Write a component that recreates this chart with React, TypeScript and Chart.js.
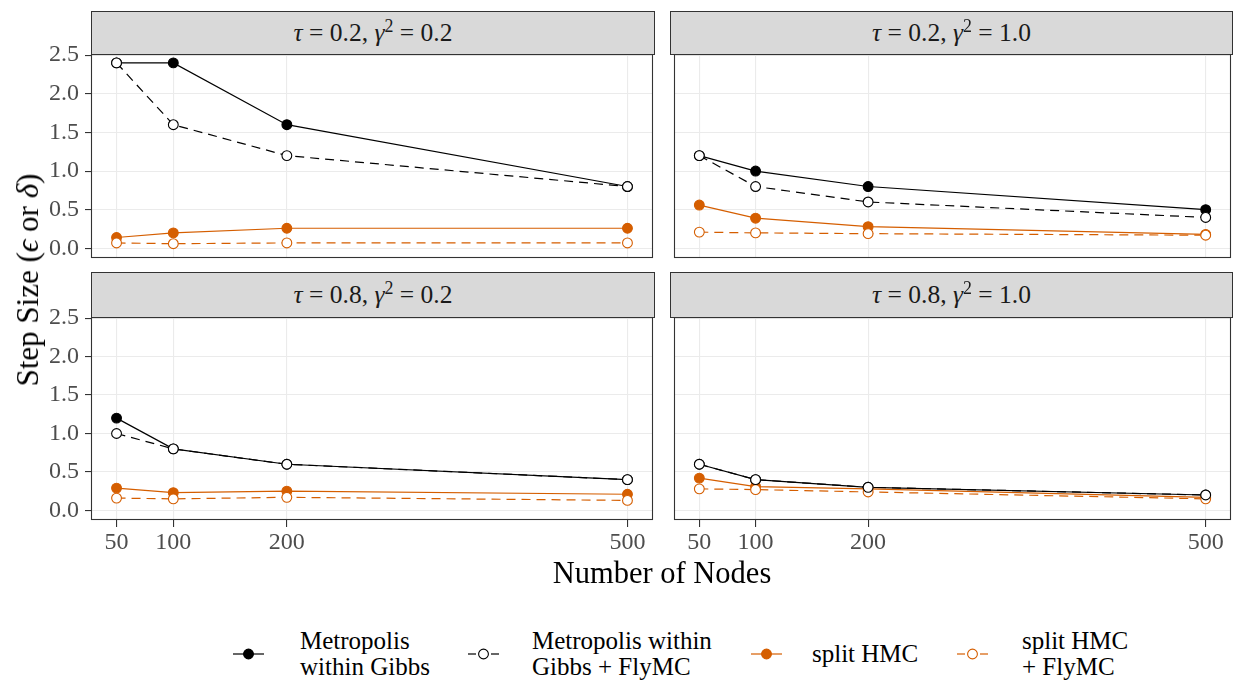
import React, { useEffect, useRef } from "react";
import { Chart, registerables } from "chart.js";

Chart.register(...registerables);

const FONT = '"Liberation Serif", "Times New Roman", serif';

// ---------------- data ----------------
const nodes = [50, 100, 200, 500];
const xTickValues = [50, 100, 200, 500];
const xTickLabels = ["50", "100", "200", "500"];
const yTickValues = [0, 0.5, 1.0, 1.5, 2.0, 2.5];
const yTickLabels = ["0.0", "0.5", "1.0", "1.5", "2.0", "2.5"];

const tauLabels = ["0.2", "0.2", "0.8", "0.8"];
const gammaLabels = ["0.2", "1.0", "0.2", "1.0"];

const seriesNames = [
  "Metropolis within Gibbs",
  "Metropolis within Gibbs + FlyMC",
  "split HMC",
  "split HMC + FlyMC",
];
const legendLines = [
  ["Metropolis", "within Gibbs"],
  ["Metropolis within", "Gibbs + FlyMC"],
  ["split HMC"],
  ["split HMC", "+ FlyMC"],
];

// Metropolis within Gibbs (per panel)
const mwgP1 = [2.4, 2.4, 1.6, 0.8];
const mwgP2 = [1.2, 1.0, 0.8, 0.5];
const mwgP3 = [1.2, 0.8, 0.6, 0.4];
const mwgP4 = [0.6, 0.4, 0.3, 0.2];
// Metropolis within Gibbs + FlyMC
const mwgFlyP1 = [2.4, 1.6, 1.2, 0.8];
const mwgFlyP2 = [1.2, 0.8, 0.6, 0.4];
const mwgFlyP3 = [1.0, 0.8, 0.6, 0.4];
const mwgFlyP4 = [0.6, 0.4, 0.3, 0.2];
// split HMC
const hmcP1 = [0.14, 0.2, 0.26, 0.26];
const hmcP2 = [0.56, 0.39, 0.28, 0.18];
const hmcP3 = [0.29, 0.23, 0.25, 0.21];
const hmcP4 = [0.42, 0.31, 0.28, 0.17];
// split HMC + FlyMC
const hmcFlyP1 = [0.07, 0.06, 0.07, 0.07];
const hmcFlyP2 = [0.21, 0.2, 0.19, 0.17];
const hmcFlyP3 = [0.16, 0.15, 0.17, 0.13];
const hmcFlyP4 = [0.28, 0.27, 0.24, 0.15];

const panelSeries = [
  [mwgP1, mwgFlyP1, hmcP1, hmcFlyP1],
  [mwgP2, mwgFlyP2, hmcP2, hmcFlyP2],
  [mwgP3, mwgFlyP3, hmcP3, hmcFlyP3],
  [mwgP4, mwgFlyP4, hmcP4, hmcFlyP4],
];

// ---------------- styles ----------------
const BLACK = "#000000";
const ORANGE = "#D55E00";
const GRID = "#EBEBEB";
const DARK = "#333333";
const TICK_TEXT = "#4D4D4D";
const seriesColor = [BLACK, BLACK, ORANGE, ORANGE];
const seriesFilled = [true, false, true, false];
const seriesDashed = [false, true, false, true];
const DASH = [9, 6];
const X_MIN = 27.5;
const X_MAX = 522.5;
const Y_MIN = -0.125;
const Y_MAX = 2.515;
const POINT_R = 4.9;

const panelBoxes = [
  { plotLeft: 91, plotTop: 54, W: 564, H: 204, stripTop: 11, showY: true, showX: false },
  { plotLeft: 670, plotTop: 54, W: 563, H: 204, stripTop: 11, showY: false, showX: false },
  { plotLeft: 91, plotTop: 317, W: 564, H: 203, stripTop: 272, showY: true, showX: true },
  { plotLeft: 670, plotTop: 317, W: 563, H: 203, stripTop: 272, showY: false, showX: true },
];

const borderPlugin = {
  id: "panelBorder",
  afterDraw(chart: any) {
    const { ctx, chartArea } = chart;
    const l = Math.round(chartArea.left) + 0.5;
    const t = Math.round(chartArea.top) + 0.5;
    const r = Math.round(chartArea.right) - 0.5;
    const b = Math.round(chartArea.bottom) - 0.5;
    ctx.save();
    ctx.strokeStyle = DARK;
    ctx.lineWidth = 1.1;
    ctx.strokeRect(l, t, r - l, b - t);
    ctx.restore();
  },
};

function Panel({ idx }: { idx: number }) {
  const ref = useRef<HTMLCanvasElement | null>(null);
  const box = panelBoxes[idx];
  const padL = 2;
  const padT = 16;
  const padR = 4;
  const padB = box.showX ? 4 : 10;
  const YW = box.showY ? 89 : 0;
  const XH = box.showX ? 46 : 0;
  const cw = padL + YW + box.W + padR;
  const ch = padT + box.H + XH + padB;
  const left = box.plotLeft - YW - padL;
  const top = box.plotTop - padT;

  useEffect(() => {
    const series = panelSeries[idx];
    const lineSets = series.map((vals, s) => ({
      label: seriesNames[s] + " line",
      data: nodes.map((n, i) => ({ x: n, y: vals[i] })),
      borderColor: seriesColor[s],
      borderWidth: 1.2,
      borderDash: seriesDashed[s] ? DASH : [],
      pointRadius: 0,
      showLine: true,
      fill: false,
      tension: 0,
    }));
    const pointSets = series.map((vals, s) => ({
      label: seriesNames[s],
      data: nodes.map((n, i) => ({ x: n, y: vals[i] })),
      showLine: false,
      pointRadius: POINT_R,
      pointBorderWidth: 1.1,
      pointBorderColor: seriesColor[s],
      pointBackgroundColor: seriesFilled[s] ? seriesColor[s] : "#FFFFFF",
      borderColor: seriesColor[s],
    }));
    // ggplot draw sequence: lines first, then points
    const seq = [
      lineSets[0], lineSets[1], lineSets[2], lineSets[3],
      pointSets[0], pointSets[2], pointSets[3], pointSets[1],
    ];
    const datasets = seq.map((d, i) => ({ ...d, order: seq.length - i }));

    const chart = new Chart(ref.current as HTMLCanvasElement, {
      type: "line",
      data: { datasets } as any,
      options: {
        animation: false,
        responsive: false,
        maintainAspectRatio: false,
        events: [],
        layout: { padding: { left: padL, top: padT, right: padR, bottom: padB } },
        plugins: { legend: { display: false }, tooltip: { enabled: false } },
        scales: {
          x: {
            type: "linear",
            min: X_MIN,
            max: X_MAX,
            afterBuildTicks: (s: any) => {
              s.ticks = xTickValues.map((v) => ({ value: v }));
            },
            afterFit: (s: any) => {
              s.height = XH;
              s.paddingLeft = 0;
              s.paddingRight = 0;
              s.paddingTop = 0;
              s.paddingBottom = 0;
            },
            border: { display: false },
            grid: {
              color: GRID,
              lineWidth: 1.1,
              drawTicks: box.showX,
              tickLength: 7,
              tickColor: DARK,
              tickWidth: 1.1,
            },
            ticks: {
              display: box.showX,
              autoSkip: false,
              maxRotation: 0,
              padding: 1,
              color: TICK_TEXT,
              font: { family: FONT, size: 24 },
              callback: (_v: any, i: number) => xTickLabels[i],
            },
          },
          y: {
            type: "linear",
            min: Y_MIN,
            max: Y_MAX,
            afterBuildTicks: (s: any) => {
              s.ticks = yTickValues.map((v) => ({ value: v }));
            },
            afterFit: (s: any) => {
              s.width = YW;
              s.paddingLeft = 0;
              s.paddingRight = 0;
              s.paddingTop = 0;
              s.paddingBottom = 0;
            },
            border: { display: false },
            grid: {
              color: GRID,
              lineWidth: 1.1,
              drawTicks: box.showY,
              tickLength: 6,
              tickColor: DARK,
              tickWidth: 1.1,
            },
            ticks: {
              display: box.showY,
              padding: 6,
              color: TICK_TEXT,
              font: { family: FONT, size: 24 },
              callback: (_v: any, i: number) => yTickLabels[i],
            },
          },
        },
      } as any,
      plugins: [borderPlugin],
    });
    return () => chart.destroy();
  }, [idx]);

  return (
    <canvas
      ref={ref}
      width={cw}
      height={ch}
      style={{ position: "absolute", left, top, width: cw, height: ch }}
    />
  );
}

function Strip({ idx }: { idx: number }) {
  const box = panelBoxes[idx];
  return (
    <div
      style={{
        position: "absolute",
        left: box.plotLeft,
        top: box.stripTop,
        width: box.W,
        height: box.plotTop - box.stripTop + 1,
        boxSizing: "border-box",
        background: "#D9D9D9",
        border: `1.1px solid ${DARK}`,
        display: "flex",
        alignItems: "center",
        justifyContent: "center",
        fontFamily: FONT,
        fontSize: 25.5,
        color: "#1A1A1A",
        whiteSpace: "nowrap",
      }}
    >
      <span>
        <i>τ</i> = {tauLabels[idx]}, <i>γ</i>
        <span style={{ fontSize: "0.7em", position: "relative", top: "-0.5em" }}>2</span> ={" "}
        {gammaLabels[idx]}
      </span>
    </div>
  );
}

const legendKeyX = [233, 468, 751, 957];
const legendTextX = [300, 532, 812, 1022];
const LEGEND_CY = 654;

function LegendKey({ s }: { s: number }) {
  const c = seriesColor[s];
  return (
    <svg width={31} height={14} style={{ display: "block" }}>
      {seriesDashed[s] ? (
        <>
          <line x1={0} y1={7} x2={8} y2={7} stroke={c} strokeWidth={1.2} />
          <line x1={23} y1={7} x2={31} y2={7} stroke={c} strokeWidth={1.2} />
        </>
      ) : (
        <line x1={0} y1={7} x2={31} y2={7} stroke={c} strokeWidth={1.2} />
      )}
      <circle cx={15.5} cy={7} r={POINT_R} fill={seriesFilled[s] ? c : "#FFFFFF"} stroke={c} strokeWidth={1.1} />
    </svg>
  );
}

export default function App() {
  return (
    <div
      style={{
        position: "absolute",
        left: 0,
        top: 0,
        width: 1238,
        height: 681,
        background: "#FFFFFF",
        overflow: "hidden",
        fontFamily: FONT,
      }}
    >
      {[0, 1, 2, 3].map((i) => (
        <Panel key={"p" + i} idx={i} />
      ))}
      {[0, 1, 2, 3].map((i) => (
        <Strip key={"s" + i} idx={i} />
      ))}
      <div
        style={{
          position: "absolute",
          left: 28,
          top: 280,
          transform: "translate(-50%, -50%) rotate(-90deg)",
          whiteSpace: "nowrap",
          fontSize: 31,
          color: "#000",
        }}
      >
        Step Size (<i>ϵ</i> or <i>δ</i>)
      </div>
      <div
        style={{
          position: "absolute",
          left: 662,
          top: 573,
          transform: "translate(-50%, -50%)",
          whiteSpace: "nowrap",
          fontSize: 30.5,
          color: "#000",
        }}
      >
        Number of Nodes
      </div>
      {[0, 1, 2, 3].map((s) => (
        <React.Fragment key={"l" + s}>
          <div style={{ position: "absolute", left: legendKeyX[s], top: LEGEND_CY - 7 }}>
            <LegendKey s={s} />
          </div>
          <div
            style={{
              position: "absolute",
              left: legendTextX[s],
              top: LEGEND_CY,
              transform: "translateY(-50%)",
              fontSize: 25,
              lineHeight: "26px",
              whiteSpace: "nowrap",
              color: "#000",
            }}
          >
            {legendLines[s].map((t, k) => (
              <div key={k}>{t}</div>
            ))}
          </div>
        </React.Fragment>
      ))}
    </div>
  );
}
